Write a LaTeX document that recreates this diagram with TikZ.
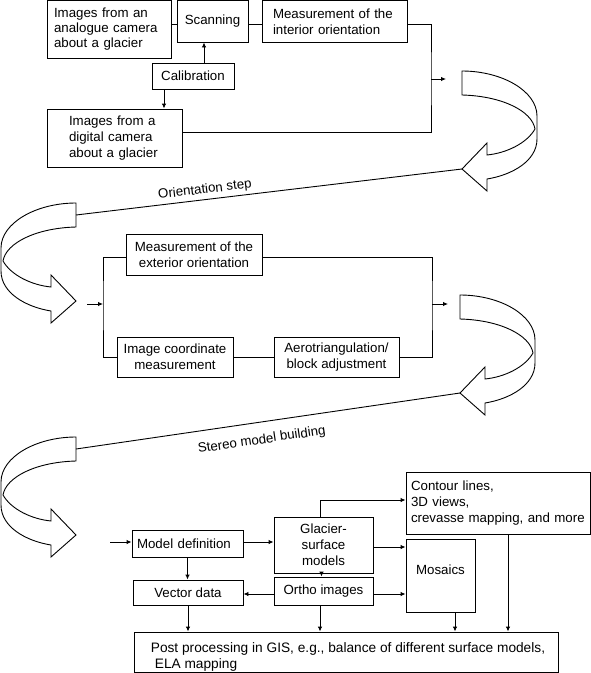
\documentclass[tikz,border=0pt]{standalone}
\usepackage{fontspec}
\setmainfont{Liberation Sans}
\usetikzlibrary{arrows.meta}
\tikzset{
  box/.style={draw, line width=0.9pt, inner sep=0pt, align=center},
  arr/.style={line width=0.9pt, -{Latex[length=5pt,width=4.5pt]}},
  ln/.style={line width=0.9pt},
  lbl/.style={inner sep=3pt},
  carr/.pic={
    \draw[ln, line join=miter] (0,0) .. controls (40,0) and (75,20) .. (75,45) -- (75,68)
      .. controls (75,90) and (50,104) .. (25,108) -- (25,120) -- (0,98) -- (25,72) -- (25,84)
      .. controls (45,82) and (65,72) .. (73,58) .. controls (70,40) and (40,25) .. (0,24) -- cycle;
    \coordinate (-tip) at (0,98);
    \coordinate (-tail) at (0,12);
  }
}
\begin{document}
\begin{tikzpicture}[x=1pt,y=-1pt,font=\fontsize{13.3}{16}\selectfont]
\fill[white] (0,0) rectangle (591,673);
\useasboundingbox (0,0) rectangle (591,673);

% ---- top section ----
\node[box, minimum width=124pt, minimum height=57.5pt, align=left, text width=110pt,
      font=\fontsize{13.3}{15}\selectfont] (ana) at (109,29.25)
      {Images from an\\analogue camera\\about a glacier};
\node[box, minimum width=71pt, minimum height=41.5pt] (scan) at (212.5,21.25) {Scanning};
\node[box, minimum width=145pt, minimum height=41.5pt, align=left, text width=123pt] (intor) at (334.5,21.25)
      {Measurement of the\\interior orientation};
\node[box, minimum width=82pt, minimum height=26pt] (calib) at (193,76) {Calibration};
\node[box, minimum width=135pt, minimum height=58pt, align=left, text width=91pt] (digi) at (114.5,138)
      {Images from a\\digital camera\\about a glacier};

\draw[ln] (ana.east |- 0,24) -- (scan.west |- 0,24);
\draw[ln] (scan.east |- 0,24) -- (intor.west |- 0,24);
\draw[arr] (calib.north -| 204,0) -- (scan.south -| 204,0);
\draw[arr] (calib.south -| 164,0) -- (digi.north -| 164,0);
\coordinate (j1) at (431,79);
\coordinate (o1) at (446,79);
\draw[ln] (intor.east |- 0,24) -| (j1) |- (digi.east |- 0,132);
\draw[arr] (j1) -- (o1);

% ---- curved arrows ----
\pic (r1) at (462,71) {carr};
\pic (r2) at (460,295) {carr};
\pic[xscale=-1] (l1) at (76,203) {carr};
\pic[xscale=-1] (l2) at (76,437) {carr};

\draw[ln] (l1-tail) -- node[lbl, sloped, above, pos=0.337] {Orientation step} (r1-tip);
\draw[ln] (l2-tail) -- node[lbl, sloped, below=8.5pt, pos=0.477] {Stereo model building} (r2-tip);

% ---- middle section ----
\node[box, minimum width=136pt, minimum height=41pt] (exto) at (194,254.5)
      {Measurement of the\\exterior orientation};
\node[box, minimum width=116pt, minimum height=40pt] (imco) at (175,357)
      {Image coordinate\\measurement};
\node[box, minimum width=125pt, minimum height=40pt] (aero) at (336.5,357)
      {Aerotriangulation/\\block adjustment};
\coordinate (mIn) at (87,304);
\coordinate (mL) at (103,304);
\coordinate (mR) at (432,304);
\coordinate (mOut) at (448,304);
\draw[ln] (exto.west |- 0,257) -| (mL) |- (imco.west);
\draw[ln] (exto.east |- 0,257) -| (mR) |- (aero.east);
\draw[ln] (imco.east) -- (aero.west);
\draw[arr] (mIn) -- (mL);
\draw[arr] (mR) -- (mOut);

% ---- bottom section ----
\node[box, minimum width=184pt, minimum height=62pt, align=left, text width=174pt] (cont) at (498,503)
      {Contour lines,\\3D views,\\crevasse mapping, and more};
\node[box, minimum width=111pt, minimum height=27pt, align=left, text width=101pt] (moddef) at (187.5,543.5)
      {Model definition};
\node[box, minimum width=99pt, minimum height=56pt] (glac) at (323.5,545)
      {Glacier-\\surface\\models};
\node[box, minimum width=69pt, minimum height=73pt] (mos) at (440.5,575.5)
      {\raisebox{6pt}[\height][\depth]{Mosaics}};
\node[box, minimum width=99pt, minimum height=28pt] (ortho) at (323.5,591) {Ortho images};
\node[box, minimum width=110pt, minimum height=25pt] (vect) at (188,592.5) {Vector data};
\node[box, minimum width=424pt, minimum height=40pt, align=left, font=\fontsize{13.7}{15.5}\selectfont] (post) at (346,652)
      {\rule{0pt}{20pt}\hspace*{4pt}Post processing in GIS, e.g., balance of different surface models,\\\hspace*{8pt}ELA mapping};

\coordinate (in2) at (110,542);
\draw[arr] (in2) -- (in2 -| moddef.west);
\draw[arr] (moddef.east |- 0,542) -- (glac.west |- 0,542);
\draw[arr] (glac.north -| 320,0) |- (cont.west |- 0,500);
\draw[arr] (glac.east |- 0,547) -- (mos.west |- 0,547);
\draw[arr] (glac.south -| 321.5,0) -- (ortho.north -| 321.5,0);
\draw[arr] (ortho.west |- 0,594) -- (vect.east |- 0,594);
\draw[arr] (ortho.east |- 0,594) -- (mos.west |- 0,594);
\draw[arr] (moddef.south) -- (moddef.south |- vect.north);
\draw[arr] (vect.south) -- (vect.south |- post.north);
\draw[arr] (ortho.south -| 320,0) -- (post.north -| 320,0);
\draw[arr] (mos.south -| 455,0) -- (post.north -| 455,0);
\draw[arr] (cont.south -| 508,0) -- (post.north -| 508,0);
\end{tikzpicture}
\end{document}
